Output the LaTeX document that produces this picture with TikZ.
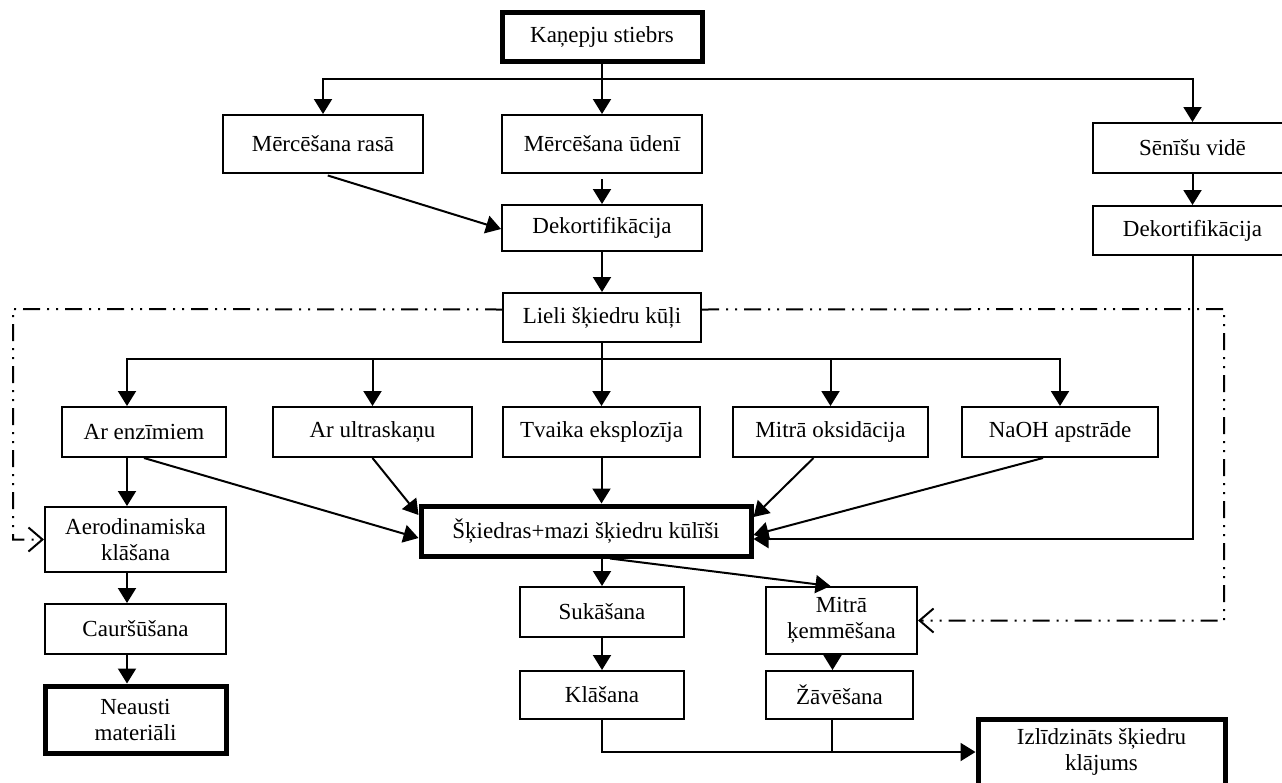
\documentclass[tikz,border=0pt]{standalone}
\usepackage{fontspec}
\setmainfont{Liberation Serif}
\usetikzlibrary{calc,positioning,arrows.meta}

\begin{document}
\begin{tikzpicture}[
  x=1pt,y=-1pt,
  box/.style={rectangle,draw,line width=2pt,minimum height=50pt,align=center,inner sep=0pt,font=\fontsize{23}{26}\selectfont},
  mainbox/.style={box,line width=5pt},
  link/.style={line width=2pt},
  arr/.style={link,-{Triangle[length=15pt,width=18pt]}},
  loopline/.style={link,dash pattern=on 17pt off 7pt on 2pt off 7pt on 2pt off 7pt,-{Straight Barb[length=14pt,width=24pt]}},
  ]
  \useasboundingbox (0,0) rectangle (1282,782);

  % retting
  \node (stem) [mainbox,minimum width=200,minimum height=49] at (602,37) {Kaņepju stiebrs};
  \node (soakdew) [box,minimum width=200,minimum height=58] at (323,144) {Mērcēšana rasā};
  \node (soakwater) [box,minimum width=200,minimum height=58] at (602,144) {Mērcēšana ūdenī};
  \node (fungi) [box,minimum width=199] at (1192.5,148) {Sēnīšu vidē};
  \node (decort_0) [box,minimum width=200,minimum height=46] at (602,228) {Dekortifikācija};
  \node (decort_1) [box,minimum width=199,minimum height=49] at (1192.5,230.5) {Dekortifikācija};
  \node (bundles) [box,minimum width=198,minimum height=49] at (602,317.5) {Lieli šķiedru kūļi};

  % treatments
  \node (enzyme) [box,minimum width=164] at (144,432) {Ar enzīmiem};
  \node (ultra) [box,minimum width=199] at (372.5,432) {Ar ultraskaņu};
  \node (steam) [box,minimum width=197] at (601.5,432) {Tvaika eksplozīja};
  \node (oxid) [box,minimum width=195] at (830.5,432) {Mitrā oksidācija};
  \node (naoh) [box,minimum width=196] at (1060,432) {NaOH apstrāde};
  \node (fibres) [mainbox,minimum width=330] at (586,531) {Šķiedras+mazi šķiedru kūlīši};

  % nonwovens
  \node (aero) [box,minimum width=181,minimum height=65] at (135.5,539.5) {Aerodinamiska\\klāšana};
  \node (stitch) [box,minimum width=181] at (135.5,629) {Cauršūšana};
  \node (nonwoven) [mainbox,minimum width=181,minimum height=67] at (135.5,719.5) {Neausti\\materiāli};

  % yarn / web
  \node (twist) [box,minimum width=164] at (602,612) {Sukāšana};
  \node (wetcomb) [box,minimum width=151,minimum height=67] at (841.5,620.5) {Mitrā\\ķemmēšana};
  \node (lay) [box,minimum width=164,minimum height=48] at (602,695) {Klāšana};
  \node (dry) [box,minimum width=147,minimum height=48] at (839.5,695) {Žāvēšana};
  \node (web) [mainbox,minimum width=247,minimum height=66] at (1101.5,752) {Izlīdzināts šķiedru\\klājums};

  \coordinate (split_0) at (602,79);
  \coordinate (split_1) at (602,359);
  \coordinate (loop_0) at (13,309);
  \coordinate (loop_1) at (1224,309);

  \draw[arr] (stem) -- (soakwater);
  \draw[arr] (split_0) -| (soakdew);
  \draw[arr] (split_0) -| (fungi);
  \draw[arr,shorten <=5pt] (soakdew.south) -- ([yshift=-1pt]decort_0.west);
  \draw[arr,shorten <=5pt] (soakwater) -- (decort_0);
  \draw[arr] (fungi) -- (decort_1);
  \draw[arr] (decort_0) -- (bundles);

  \draw[link] (bundles) -- (split_1);
  \draw[arr] (split_1) -| ([xshift=-17pt]enzyme.north);
  \foreach \t in {ultra,steam,oxid,naoh}
    \draw[arr] (split_1) -| (\t);

  \draw[loopline] ([yshift=8pt]bundles.west) -- (loop_0) |- (aero.west);
  \draw[loopline] ([yshift=8pt]bundles.east) -- (loop_1) |- (wetcomb.east);

  \draw[arr] (enzyme.south) -- ([yshift=-7pt]fibres.west);
  \draw[arr] (ultra.south) -- ([yshift=16pt]fibres.west);
  \draw[arr] (steam) -- (steam |- fibres.north);
  \draw[arr] ([xshift=-17pt]oxid.south) -- ([yshift=14pt]fibres.east);
  \draw[arr] ([xshift=-17pt]naoh.south) -- ([yshift=-4pt]fibres.east);
  \draw[arr] (decort_1) |- ([yshift=-8pt]fibres.east);

  \draw[arr] ([xshift=-17pt]enzyme.south) -- ([xshift=-8.5pt]aero.north);
  \draw[arr] ([xshift=-8.5pt]aero.south) -- ([xshift=-8.5pt]stitch.north);
  \draw[arr] ([xshift=-8.5pt]stitch.south) -- ([xshift=-8.5pt]nonwoven.north);

  \draw[arr] (fibres.south -| twist) -- (twist);
  \draw[arr] ([xshift=24pt]fibres.south) -- ([xshift=-11pt]wetcomb.north);
  \draw[arr] (twist) -- (lay);
  \draw[arr] ([xshift=-9pt]wetcomb.south) -- ([xshift=-7pt]dry.north);
  \draw[arr] (lay) |- (web);
  \draw[link] ([xshift=-7.5pt]dry.south) -- ([xshift=-7.5pt]dry.south |- web.west);
\end{tikzpicture}
\end{document}
